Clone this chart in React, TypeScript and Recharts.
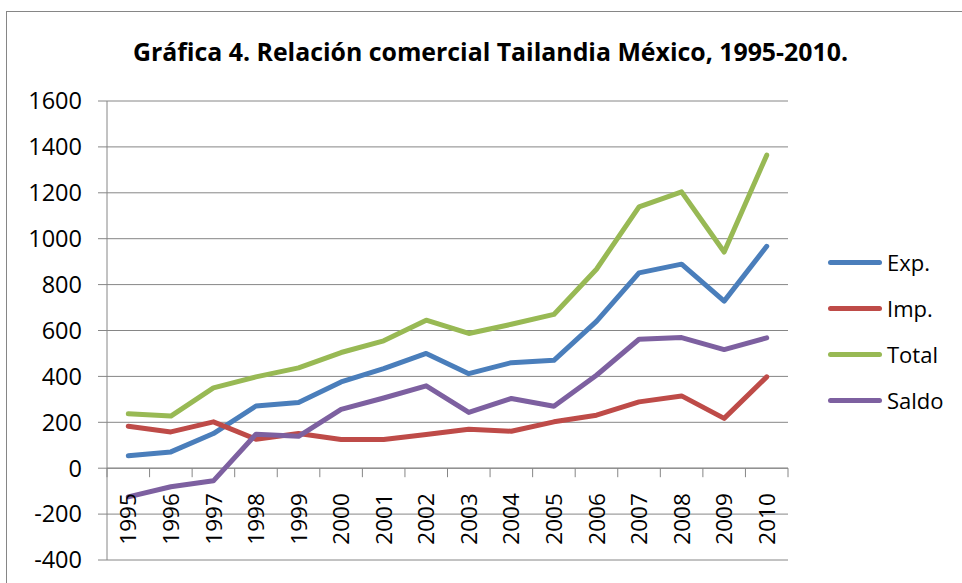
import { CartesianGrid, Line, LineChart, ReferenceLine, XAxis, YAxis } from "recharts";

const years = ["1995", "1996", "1997", "1998", "1999", "2000", "2001", "2002", "2003", "2004", "2005", "2006", "2007", "2008", "2009", "2010"];
const exp = [54, 71, 151, 271, 286, 376, 434, 500, 412, 460, 470, 640, 851, 889, 728, 967];
const imp = [183, 158, 202, 126, 151, 125, 125, 147, 170, 161, 202, 231, 289, 315, 217, 398];
const total = [237, 227, 350, 398, 437, 504, 555, 645, 587, 627, 670, 867, 1139, 1204, 942, 1364];
const saldo = [-125, -81, -55, 148, 139, 256, 306, 359, 243, 304, 270, 405, 562, 569, 517, 568];
const yTicks = [-400, -200, 0, 200, 400, 600, 800, 1000, 1200, 1400, 1600];

const series = [
  { key: "exp", name: "Exp.", color: "#4A7EBB" },
  { key: "imp", name: "Imp.", color: "#BE4B48" },
  { key: "total", name: "Total", color: "#98B954" },
  { key: "saldo", name: "Saldo", color: "#7D60A0" },
];

const data = years.map((year, i) => ({
  year,
  exp: exp[i],
  imp: imp[i],
  total: total[i],
  saldo: saldo[i],
}));

const FONT = "'Open Sans', sans-serif";
const GRID = "#868686";
const PLOT_LEFT = 107;
const PLOT_TOP = 101;
const PLOT_W = 681;
const PLOT_H = 459;
const ZERO_Y = PLOT_TOP + PLOT_H * (1600 / 2000);
const BAND = PLOT_W / years.length;

function YearTick(props: any) {
  const { x, index, payload } = props;
  const last = index === years.length - 1;
  return (
    <g>
      <line x1={x - BAND / 2} x2={x - BAND / 2} y1={ZERO_Y} y2={ZERO_Y + 9} stroke={GRID} />
      {last && <line x1={x + BAND / 2} x2={x + BAND / 2} y1={ZERO_Y} y2={ZERO_Y + 9} stroke={GRID} />}
      <g transform={`translate(${x},${ZERO_Y + 25})`}>
        <text transform="rotate(-90)" textAnchor="end" dy="0.36em" fontSize={22.5} fontFamily={FONT} fill="#000">
          {payload.value}
        </text>
      </g>
    </g>
  );
}

function LegendBox() {
  return (
    <div style={{ position: "absolute", left: 828, top: 239 }}>
      {series.map((s) => (
        <div key={s.key} style={{ display: "flex", alignItems: "center", height: 46 }}>
          <div style={{ width: 54, height: 5, borderRadius: 3, background: s.color, marginRight: 5 }} />
          <span style={{ fontFamily: FONT, fontSize: 22, color: "#000" }}>{s.name}</span>
        </div>
      ))}
    </div>
  );
}

export default function App() {
  return (
    <div style={{ position: "absolute", left: 0, top: 0, width: 962, height: 583, background: "#fff", overflow: "hidden" }}>
      <div style={{ position: "absolute", left: 6, top: 11, width: 1000, height: 700, borderLeft: `1.5px solid ${GRID}`, borderTop: `1.5px solid ${GRID}` }} />
      <svg width={962} height={80} style={{ position: "absolute", left: 0, top: 0 }}>
        <text x={133} y={61} textLength={715} lengthAdjust="spacingAndGlyphs" fontFamily={FONT} fontWeight="bold" fontSize={24.5} fill="#000">
          Gráfica 4. Relación comercial Tailandia México, 1995-2010.
        </text>
      </svg>
      <div style={{ position: "absolute", left: 0, top: 0 }}>
        <LineChart width={962} height={583} data={data} margin={{ top: PLOT_TOP, right: 962 - PLOT_LEFT - PLOT_W, bottom: 3, left: 0 }}>
          <CartesianGrid vertical={false} stroke={GRID} />
          <XAxis dataKey="year" scale="band" height={583 - PLOT_TOP - PLOT_H - 3} axisLine={false} tickLine={false} tick={<YearTick />} interval={0} />
          <YAxis
            width={PLOT_LEFT}
            domain={[-400, 1600]}
            ticks={yTicks}
            interval={0}
            axisLine={{ stroke: GRID }}
            tickLine={{ stroke: GRID }}
            tickSize={9}
            tickMargin={16}
            tick={{ fontSize: 23.5, fontFamily: FONT, fill: "#000" }}
          />
          <ReferenceLine y={0} stroke={GRID} />
          {series.map((s) => (
            <Line
              key={s.key}
              dataKey={s.key}
              name={s.name}
              type="linear"
              stroke={s.color}
              strokeWidth={5}
              strokeLinecap="round"
              strokeLinejoin="round"
              dot={false}
              isAnimationActive={false}
            />
          ))}
        </LineChart>
      </div>
      <LegendBox />
    </div>
  );
}
